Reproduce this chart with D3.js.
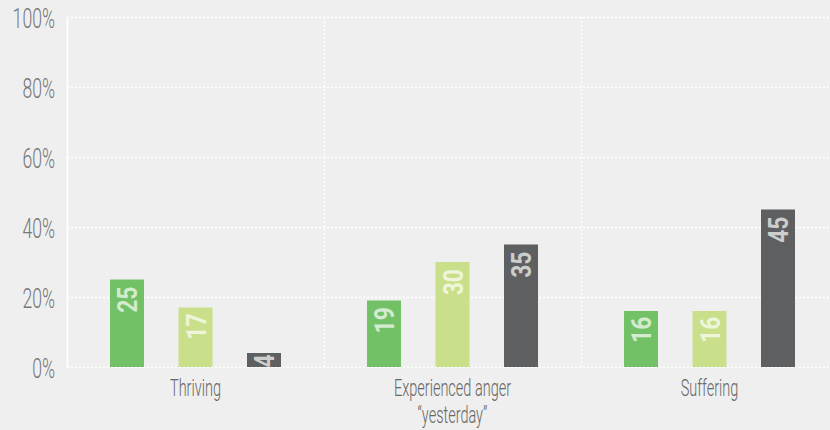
<!DOCTYPE html>
<html>
<head>
<meta charset="utf-8">
<script src="https://cdn.jsdelivr.net/npm/d3@7"></script>
<style>
  html, body { margin: 0; padding: 0; background: #efefef; }
  svg { display: block; }
</style>
</head>
<body>
<svg id="chart" width="830" height="430"></svg>
<script>
const categories = ["Thriving", "Experienced anger\n“yesterday”", "Suffering"];
const seriesNames = ["s1", "s2", "s3"];
const seriesValues = [
  [25, 19, 16],
  [17, 30, 16],
  [4, 35, 45]
];
const seriesColors = ["#73c167", "#c9df8a", "#5e5f61"];
const yTicks = [0, 20, 40, 60, 80, 100];

(function () {
const W = 830, H = 430;
const pLeft = 67, pTop = 17, pBottom = 367, pRight = 838;
const svg = d3.select("#chart");
svg.append("rect").attr("width", W).attr("height", H).attr("fill", "#efefef");

const y = d3.scaleLinear().domain([0, 100]).range([pBottom, pTop]);
const x0 = d3.scaleBand().domain(categories).range([pLeft, pRight]).padding(0);
const x1 = d3.scaleBand().domain(seriesNames).range([0, x0.bandwidth()])
  .paddingInner(0.504).paddingOuter(0.628);

const SX = 0.63;

// gridlines
svg.append("g").selectAll("line").data(yTicks).join("line")
  .attr("x1", pLeft).attr("x2", W)
  .attr("y1", d => y(d) + 0.5).attr("y2", d => y(d) + 0.5)
  .attr("stroke", "#ffffff").attr("stroke-width", 1.5)
  .attr("stroke-dasharray", "2,2");
svg.append("g").selectAll("line").data(categories.slice(1)).join("line")
  .attr("x1", d => Math.round(x0(d)) + 0.5).attr("x2", d => Math.round(x0(d)) + 0.5)
  .attr("y1", pTop).attr("y2", pBottom)
  .attr("stroke", "#ffffff").attr("stroke-width", 1.5)
  .attr("stroke-dasharray", "2,2");
svg.append("line")
  .attr("x1", pLeft + 0.5).attr("x2", pLeft + 0.5)
  .attr("y1", pTop).attr("y2", pBottom + 1)
  .attr("stroke", "#ffffff").attr("stroke-width", 1.5);

// clip
svg.append("clipPath").attr("id", "clip").append("rect")
  .attr("x", 0).attr("y", 0).attr("width", W).attr("height", pBottom + 0.5);

// bars
const data = [];
categories.forEach((c, ci) => {
  seriesNames.forEach((s, si) => {
    data.push({ c, s, si, v: seriesValues[si][ci] });
  });
});
const gBars = svg.append("g").attr("clip-path", "url(#clip)");
gBars.selectAll("rect").data(data).join("rect")
  .attr("x", d => x0(d.c) + x1(d.s))
  .attr("y", d => y(d.v))
  .attr("width", x1.bandwidth())
  .attr("height", d => y(0) - y(d.v))
  .attr("fill", d => seriesColors[d.si]);

gBars.selectAll("text").data(data).join("text")
  .attr("transform", d => {
    const h = y(0) - y(d.v);
    const pad = Math.min(7, h * 0.1);
    return `translate(${x0(d.c) + x1(d.s) + x1.bandwidth() / 2},${y(d.v) + pad}) rotate(-90) scale(0.82,1)`;
  })
  .attr("text-anchor", "end")
  .attr("dy", "0.36em")
  .attr("font-family", "Roboto, 'DejaVu Sans', sans-serif")
  .attr("font-weight", 700)
  .attr("font-size", 28)
  .attr("fill", "rgba(255,255,255,0.7)")
  .text(d => d.v);

// y axis
const yAxis = d3.axisLeft(y).tickValues(yTicks).tickSize(0).tickFormat(d => d + "%");
const gy = svg.append("g").attr("transform", `translate(${pLeft},0)`).call(yAxis);
gy.select(".domain").remove();
gy.selectAll("text")
  .attr("x", null).attr("dy", null)
  .attr("font-family", "Roboto, sans-serif")
  .attr("font-weight", 300)
  .attr("font-size", 28)
  .attr("fill", "#777777")
  .attr("text-anchor", "end")
  .attr("transform", `translate(-12,10) scale(${SX},1)`);

// x axis
const xAxis = d3.axisBottom(x0).tickSize(0).tickFormat("");
const gx = svg.append("g").attr("transform", `translate(0,${pBottom})`).call(xAxis);
gx.select(".domain").remove();
gx.selectAll(".tick").each(function (d) {
  const t = d3.select(this).select("text");
  t.attr("y", null).attr("dy", null)
    .attr("font-family", "Roboto, sans-serif")
    .attr("font-weight", 300)
    .attr("font-size", 23)
    .attr("fill", "#666666")
    .attr("text-anchor", "middle")
    .attr("transform", `translate(0,29) scale(${SX},1)`);
  const lines = d.split("\n");
  t.selectAll("tspan").data(lines).join("tspan")
    .attr("x", 0)
    .attr("dy", (l, i) => i === 0 ? 0 : 27)
    .text(l => l);
});
})();
</script>
</body>
</html>
